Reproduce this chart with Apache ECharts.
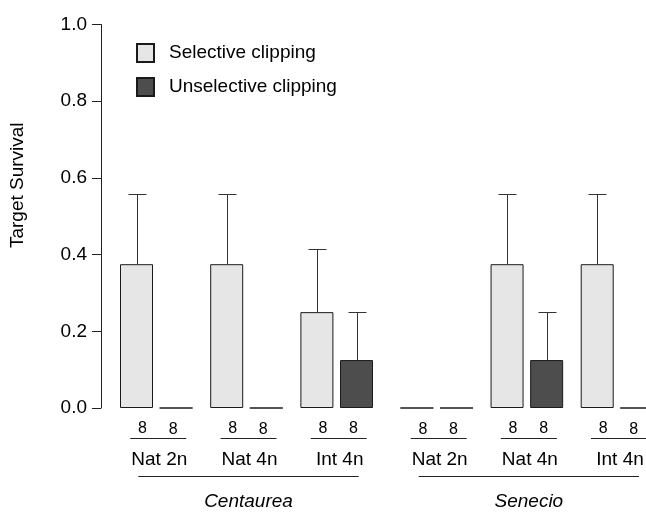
<!DOCTYPE html>
<html><head><meta charset="utf-8">
<script src="https://cdn.jsdelivr.net/npm/echarts@6/dist/echarts.min.js"></script>
<style>html,body{margin:0;padding:0;background:#fff}#c{width:646px;height:512px}</style>
</head><body><div id="c"></div>
<script>
// ---- data ----
const speciesNames = ['Centaurea', 'Senecio'];
const groupNames = ['Nat 2n', 'Nat 4n', 'Int 4n'];
const seriesNames = ['Selective clipping', 'Unselective clipping'];
const yTicks = [0.0, 0.2, 0.4, 0.6, 0.8, 1.0];
// Centaurea
const centSel = [0.375, 0.375, 0.25];
const centSelErr = [0.183, 0.183, 0.164];
const centUnsel = [0, 0, 0.125];
const centUnselErr = [0, 0, 0.125];
const centSelN = [8, 8, 8];
const centUnselN = [8, 8, 8];
// Senecio
const senSel = [0, 0.375, 0.375];
const senSelErr = [0, 0.183, 0.183];
const senUnsel = [0, 0.125, 0];
const senUnselErr = [0, 0.125, 0];
const senSelN = [8, 8, 8];
const senUnselN = [8, 8, 8];

// ---- styles ----
const FONT = 'Liberation Sans, Arial, sans-serif';
const FS = 19;
const SEL_COLOR = '#e6e6e6';
const UNSEL_COLOR = '#4d4d4d';
const EDGE = '#1a1a1a';
const BAR_W = 33;
const BAR_GAP = 0.2;
const AXIS_X = 101;

const chart = echarts.init(document.getElementById('c'), null, {renderer: 'canvas'});

const speciesData = [
  {sel: centSel, selErr: centSelErr, unsel: centUnsel, unselErr: centUnselErr, selN: centSelN, unselN: centUnselN},
  {sel: senSel, selErr: senSelErr, unsel: senUnsel, unselErr: senUnselErr, selN: senSelN, unselN: senUnselN}
];

function errorRender(params, api) {
  const cat = api.value(0), val = api.value(1), err = api.value(2), which = api.value(3);
  if (!err) return null;
  const base = api.coord([cat, val]);
  const top = api.coord([cat, val + err]);
  const half = (BAR_W + BAR_W * BAR_GAP) / 2;
  const x = Math.round(base[0] + (which === 0 ? -half : half)) + 0.5;
  const cap = 9;
  const ty = Math.round(top[1]) + 0.5;
  return {
    type: 'group',
    children: [
      {type: 'line', shape: {x1: x, y1: base[1], x2: x, y2: ty}, style: {stroke: '#333', lineWidth: 1}},
      {type: 'line', shape: {x1: x - cap, y1: ty, x2: x + cap, y2: ty}, style: {stroke: '#333', lineWidth: 1}}
    ]
  };
}

function annotRender(params, api) {
  const cat = api.value(0);
  const sp = api.value(1);
  const p0 = api.coord([cat, 0]);
  const cx = p0[0];
  const y0 = p0[1];
  const children = [
    {type: 'line', shape: {x1: cx + 2 - 28, y1: y0 + 30.5, x2: cx + 2 + 28, y2: y0 + 30.5}, style: {stroke: '#222', lineWidth: 1}},
    {type: 'text', style: {text: groupNames[cat], x: cx + 3, y: y0 + 51.5, textAlign: 'center', textVerticalAlign: 'middle', font: FS + 'px ' + FONT, fill: '#000'}}
  ];
  if (cat === 1) {
    const first = api.coord([0, 0])[0];
    const last = api.coord([2, 0])[0];
    const x1 = first - 18, x2 = last + 22;
    children.push({type: 'line', shape: {x1: x1, y1: y0 + 68.5, x2: x2, y2: y0 + 68.5}, style: {stroke: '#222', lineWidth: 1}});
    children.push({type: 'text', style: {text: speciesNames[sp], x: (x1 + x2) / 2, y: y0 + 94, textAlign: 'center', textVerticalAlign: 'middle', font: 'italic ' + FS + 'px ' + FONT, fill: '#000'}});
  }
  return {type: 'group', children: children};
}

const grids = [
  {left: 156.3, width: 180.4, top: 24.5, bottom: 104},
  {left: 436.7, width: 180.3, top: 24.5, bottom: 104}
];
const xAxes = [], yAxes = [], series = [];
speciesData.forEach(function (d, i) {
  xAxes.push({gridIndex: i, type: 'category', data: groupNames, boundaryGap: false,
    axisLine: {show: false}, axisTick: {show: false}, axisLabel: {show: false}, splitLine: {show: false}});
  yAxes.push({
    gridIndex: i, type: 'value', min: yTicks[0], max: yTicks[yTicks.length - 1], interval: 0.2,
    show: i === 0, offset: grids[0].left - AXIS_X,
    axisLine: {show: true, lineStyle: {color: '#222', width: 1}},
    axisTick: {show: true, length: 9, lineStyle: {color: '#222'}},
    axisLabel: {fontSize: FS, fontFamily: FONT, color: '#000', margin: 14, formatter: function (v) { return v.toFixed(1); }},
    splitLine: {show: false},
    name: i === 0 ? 'Target Survival' : '', nameLocation: 'middle', nameGap: 74,
    nameTextStyle: {fontSize: FS, fontFamily: FONT, color: '#000', padding: [0, 0, 0, 62]}
  });
  series.push({
    name: seriesNames[0], type: 'bar', xAxisIndex: i, yAxisIndex: i, data: d.sel,
    barWidth: BAR_W, barGap: (BAR_GAP * 100) + '%', clip: false,
    itemStyle: {color: SEL_COLOR, borderColor: EDGE, borderWidth: 1},
    label: {show: true, position: 'bottom', distance: 13, offset: [6, 0], fontSize: 16, fontFamily: FONT, color: '#000',
      formatter: function (p) { return String(d.selN[p.dataIndex]); }},
    emphasis: {disabled: true}, silent: true, animation: false
  });
  series.push({
    name: seriesNames[1], type: 'bar', xAxisIndex: i, yAxisIndex: i, data: d.unsel,
    barWidth: BAR_W, barGap: (BAR_GAP * 100) + '%', clip: false,
    itemStyle: {color: UNSEL_COLOR, borderColor: EDGE, borderWidth: 1},
    label: {show: true, position: 'bottom', distance: 13, offset: [-3, 0], fontSize: 16, fontFamily: FONT, color: '#000',
      formatter: function (p) { return String(d.unselN[p.dataIndex]); }},
    emphasis: {disabled: true}, silent: true, animation: false
  });
  const errData = [];
  d.sel.forEach(function (v, k) { errData.push([k, v, d.selErr[k], 0]); });
  d.unsel.forEach(function (v, k) { errData.push([k, v, d.unselErr[k], 1]); });
  series.push({type: 'custom', xAxisIndex: i, yAxisIndex: i, data: errData, renderItem: errorRender, silent: true, animation: false, clip: false, z: 3});
  series.push({type: 'custom', xAxisIndex: i, yAxisIndex: i, data: groupNames.map(function (g, k) { return [k, i]; }),
    renderItem: annotRender, silent: true, animation: false, clip: false});
});

chart.setOption({
  animation: false,
  backgroundColor: '#fff',
  grid: grids,
  xAxis: xAxes,
  yAxis: yAxes,
  legend: {
    data: seriesNames, orient: 'vertical', left: 136, top: 43, itemGap: 14, padding: 0,
    itemWidth: 17, itemHeight: 18, icon: 'rect',
    textStyle: {fontSize: FS, fontFamily: FONT, color: '#000', padding: [0, 0, 0, 10]},
    selectedMode: false
  },
  series: series
});
</script>
</body></html>
